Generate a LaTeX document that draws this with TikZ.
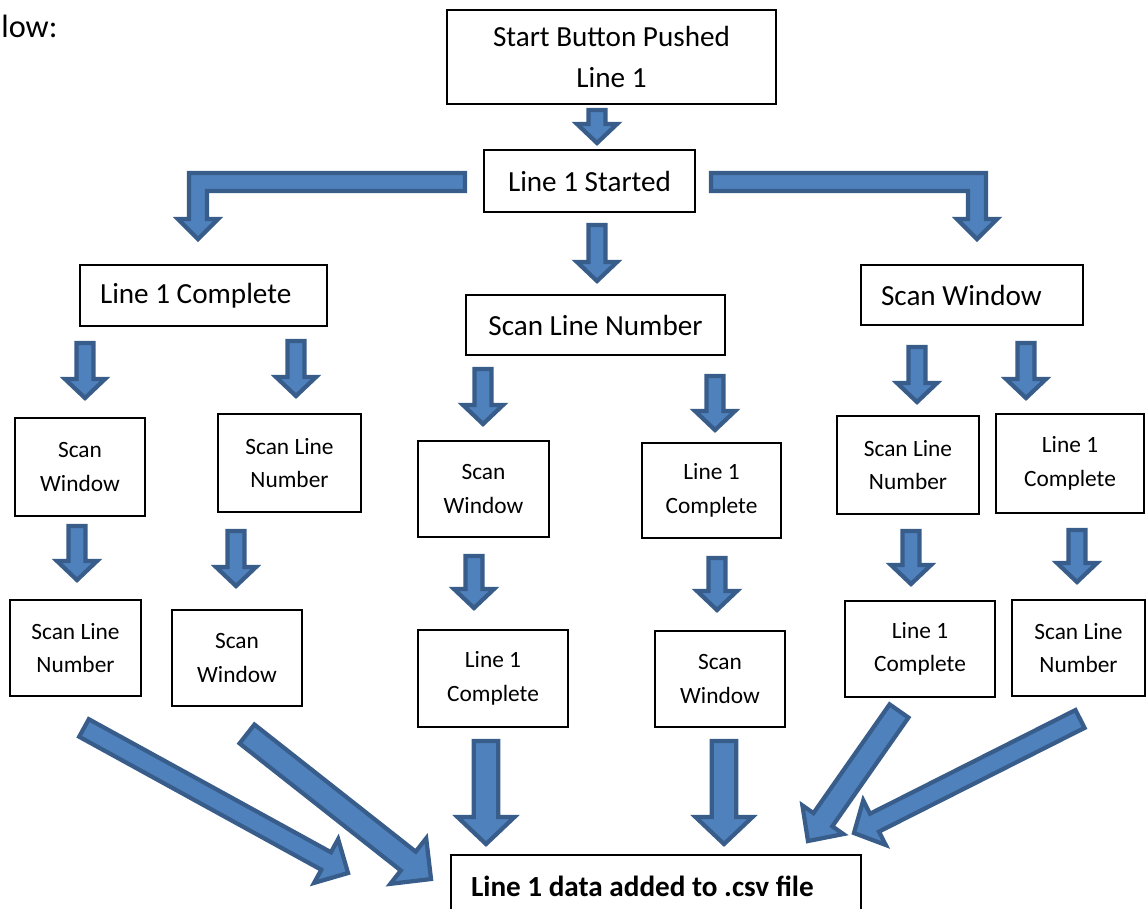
\documentclass[tikz,border=0pt]{standalone}
\usepackage{fontspec}
\setmainfont{Carlito}
\usetikzlibrary{calc}

\definecolor{arrowfill}{HTML}{4F81BD}
\definecolor{arrowedge}{HTML}{385D8A}

% one unit of the drawing grid
\newlength{\px}
\setlength{\px}{0.02cm}

% straight block arrow: shaft half width, head half width, head length, tail, tip
\newcommand{\blockarrow}[5]{%
  \path #4 coordinate (ba-t) #5 coordinate (ba-p);
  \path ($(ba-p)!#3\px!(ba-t)$) coordinate (ba-h);
  \filldraw[blockarrow] ($(ba-t)!#1\px!90:(ba-p)$) -- ($(ba-h)!#1\px!90:(ba-p)$)
    -- ($(ba-h)!#2\px!90:(ba-p)$) -- (ba-p) -- ($(ba-h)!#2\px!-90:(ba-p)$)
    -- ($(ba-h)!#1\px!-90:(ba-p)$) -- ($(ba-t)!#1\px!-90:(ba-p)$) -- cycle;}

% bent block arrow, sideways then down: direction (+1 right, -1 left), tail, tip
\newcommand{\bentarrow}[3]{%
  \path #2 coordinate (bt) #3 coordinate (bp);
  \filldraw[blockarrow] ($(bt)+(0,-9)$) -- ($(bp|-bt)+(9*#1,-9)$)
    -- ($(bp)+(9*#1,-20)$) -- ($(bp)+(20*#1,-20)$) -- (bp)
    -- ($(bp)+(-20*#1,-20)$) -- ($(bp)+(-9*#1,-20)$)
    -- ($(bp|-bt)+(-9*#1,9)$) -- ($(bt)+(0,9)$) -- cycle;}

\begin{document}
\begin{tikzpicture}[
  x=\px, y=-\px,
  box/.style={draw=black, line width=1.1pt, inner sep=0pt},
  bigbox/.style={box, align=center, font=\fontsize{16.6}{23.2}\selectfont},
  leftbox/.style={box, align=flush left, inner xsep=20\px, font=\fontsize{16.6}{23.2}\selectfont},
  smallbox/.style={box, align=center, font=\fontsize{13.3}{19}\selectfont},
  blockarrow/.style={fill=arrowfill, draw=arrowedge, line width=2.4pt, line join=miter}
]
\useasboundingbox (0,0) rectangle (1146,909);

\node[anchor=base west, inner sep=0pt, font=\fontsize{18.4}{22}\selectfont] (intro) at (1,38) {low:};

% Top nodes
\node[bigbox, minimum width=329\px, minimum height=94\px] (start) at (611.5,57) {Start Button Pushed\\Line 1};
\node[bigbox, minimum width=211\px, minimum height=62\px] (started) at (589.5,181) {Line 1 Started};

% First branch level
\node[leftbox, text width=207\px, minimum height=61\px] (lc) at (203.5,295.5) {Line 1 Complete};
\node[bigbox, minimum width=259\px, minimum height=60\px] (sln) at (595.5,325) {Scan Line Number};
\node[leftbox, text width=182\px, minimum height=60\px] (sw) at (972,295) {Scan Window};

% Second level
\node[smallbox, minimum width=130\px, minimum height=98\px] (sw1) at (80,467) {Scan\\Window};
\node[smallbox, minimum width=143\px, minimum height=98\px] (sln1) at (289.5,463) {Scan Line\\Number};
\node[smallbox, minimum width=131\px, minimum height=96\px] (sw2) at (483.5,489) {Scan\\Window};
\node[smallbox, minimum width=139\px, minimum height=95\px] (lc2) at (711.5,490.5) {Line 1\\Complete};
\node[smallbox, minimum width=142\px, minimum height=98\px] (sln3) at (908,465) {Scan Line\\Number};
\node[smallbox, minimum width=148\px, minimum height=99\px] (lc3) at (1070,463.5) {Line 1\\Complete};

% Third level
\node[smallbox, minimum width=131\px, minimum height=96\px] (slna) at (75.5,648) {Scan Line\\Number};
\node[smallbox, minimum width=130\px, minimum height=96\px] (swb) at (237,658) {Scan\\Window};
\node[smallbox, minimum width=150\px, minimum height=97\px] (lcc) at (493,678.5) {Line 1\\Complete};
\node[smallbox, minimum width=130\px, minimum height=96\px] (swd) at (720,679) {Scan\\Window};
\node[smallbox, minimum width=150\px, minimum height=96\px] (lce) at (920,649) {Line 1\\Complete};
\node[smallbox, minimum width=133\px, minimum height=96\px] (slnf) at (1078.5,648) {Scan Line\\Number};

% Result
\node[leftbox, text width=370\px, minimum height=62\px, font=\fontsize{16.6}{23.2}\selectfont\bfseries] (csv) at (656,886) {Line 1 data added to .csv file};

% Top arrows
\blockarrow{8.5}{20}{19}{($(start.south)+(-14.5,5)$)}{($(started.north)+(7.5,-6)$)}
\blockarrow{8.5}{20}{19}{($(started.south)+(7.5,12)$)}{($(sln.north)+(1.5,-13)$)}
\bentarrow{-1}{($(started.west)+(-18,1)$)}{($(lc.north)+(-5.5,-25)$)}
\bentarrow{1}{($(started.east)+(15,1)$)}{($(sw.north)+(5,-25)$)}

% Branch arrows
\blockarrow{8.5}{20}{19}{($(lc.south)+(-118.5,16)$)}{($(sw1.north)+(5,-19)$)}
\blockarrow{8.5}{20}{19}{($(lc.south)+(92.5,14)$)}{($(sln1.north)+(6.5,-17)$)}
\blockarrow{8.5}{20}{19}{($(sln.south)+(-112.5,13)$)}{($(sw2.north)+(-0.5,-16)$)}
\blockarrow{8.5}{20}{19}{($(sln.south)+(119.5,20)$)}{($(lc2.north)+(3.5,-12)$)}
\blockarrow{8.5}{20}{19}{($(sw.south)+(-55,21)$)}{($(sln3.north)+(9,-13)$)}
\blockarrow{8.5}{20}{19}{($(sw.south)+(54,17)$)}{($(lc3.north)+(-44,-15)$)}

\blockarrow{8.5}{20}{19}{($(sw1.south)+(-3,9)$)}{($(slna.north)+(1.5,-19)$)}
\blockarrow{8.5}{20}{19}{($(sln1.south)+(-53.5,18)$)}{($(swb.north)+(-1,-23)$)}
\blockarrow{8.5}{20}{19}{($(sw2.south)+(-9.5,18)$)}{($(lcc.north)+(-19,-21)$)}
\blockarrow{8.5}{20}{19}{($(lc2.south)+(5.5,19)$)}{($(swd.north)+(-3,-20)$)}
\blockarrow{8.5}{20}{19}{($(sln3.south)+(3,16)$)}{($(lce.north)+(-9,-16)$)}
\blockarrow{8.5}{20}{19}{($(lc3.south)+(7,16)$)}{($(slnf.north)+(-1.5,-17)$)}

% Arrows into the result
\blockarrow{10}{25}{25}{($(slna.south)+(8.5,31)$)}{($(csv.north west)+(-102,19)$)}
\blockarrow{12}{29}{29}{($(swb.south)+(10,27)$)}{($(csv.north west)+(-19,25)$)}
\blockarrow{12.3}{28.5}{27}{($(lcc.south)+(-7,13)$)}{($(csv.north)+(-170,-10)$)}
\blockarrow{12.3}{28.5}{27}{($(swd.south)+(4,13)$)}{($(csv.north)+(68,-10)$)}
\blockarrow{11.5}{25}{26}{($(lce.south)+(-21,13)$)}{($(csv.north east)+(-54,-13)$)}
\blockarrow{10}{25}{23}{($(slnf.south)+(1.5,22)$)}{($(csv.north east)+(-8,-21)$)}

\end{tikzpicture}
\end{document}
